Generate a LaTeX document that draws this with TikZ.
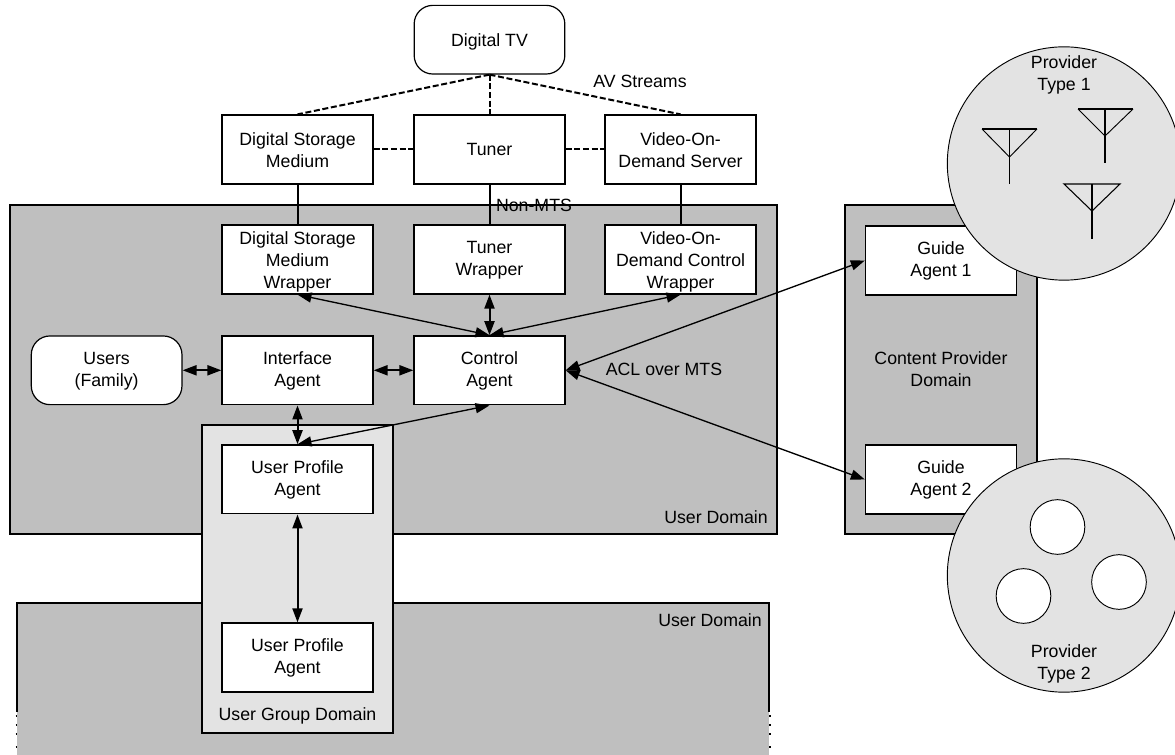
\documentclass[tikz,border=0pt]{standalone}
\usepackage{fontspec}
\setmainfont{Liberation Sans}
\usepackage{tikz}
\usetikzlibrary{arrows.meta,positioning}
\definecolor{domaingray}{gray}{0.75}
\definecolor{groupgray}{gray}{0.89}
\tikzset{
	agent/.style = {draw=black, fill=white, line width=1.2pt, align=center, inner sep=0pt,
		minimum width=113pt, minimum height=51.5pt},
	twoline/.style = {agent, text height=27.5pt},% two lines of text
	tallagent/.style = {agent, text height=47pt},% three lines of text
	endnode/.style = {rounded corners=14pt, line width=0.9pt},
	domainbox/.style = {draw=black, fill=domaingray, line width=0.8pt},
	groupbox/.style = {draw=black, fill=groupgray, line width=1.2pt},
	provider/.style = {circle, draw=black, fill=groupgray, line width=0.7pt, inner sep=0pt, minimum size=175pt},
	hole/.style = {circle, draw=black, fill=white, line width=0.7pt, inner sep=0pt, minimum size=41pt},
	textnode/.style = {align=center, inner sep=0pt},
	link/.style = {<->, line width=1.5pt},
	thinlink/.style = {<->, line width=1pt},
	wire/.style = {line width=1.5pt},
	stream/.style = {wire, dash pattern=on 4.5pt off 2pt}
}
\begin{document}
\begin{tikzpicture}[x=0.75pt,y=-0.75pt,>={Triangle[length=10.5pt,width=7.5pt]},font=\fontsize{13.3}{16.5}\selectfont]
\useasboundingbox (0,0) rectangle (1175,755);
% domains
\draw[domainbox] (10,205) rectangle (777,534);
\fill[domaingray] (17,603) rectangle (769,755);
\draw[line width=1.2pt] (17,712) -- (17,603) -- (769,603) -- (769,712);
\foreach \tick in {716,725,734,747} {
	\draw[line width=0.8pt] (15.5,\tick) -- (17,\tick);
	\draw[line width=0.8pt] (769,\tick) -- (770.5,\tick);
}
\draw[domainbox] (845,205) rectangle (1037,534);
\draw[groupbox] (202,425) rectangle (393,733);
% agents
\node [twoline] (dsm) at (297.5,149.5) {Digital Storage\\Medium};
\node [agent, right = 29.8pt of dsm] (tuner) {Tuner};
\node [twoline, right = 29.1pt of tuner] (vod) {Video-On-\\Demand Server};
\node [agent, endnode, text depth=0pt, above = 29.8pt of tuner] (tv) {Digital TV};
\node [tallagent, below = 29.8pt of dsm] (dsmw) {Digital Storage\\Medium\\Wrapper};
\node [twoline, below = 29.8pt of tuner] (tunerw) {Tuner\\Wrapper};
\node [tallagent, below = 29.8pt of vod] (vodw) {Video-On-\\Demand Control\\Wrapper};
\node [twoline, below = 30.4pt of dsmw] (iface) {Interface\\Agent};
\node [twoline, below = 30.4pt of tunerw] (ctrl) {Control\\Agent};
\node [twoline, endnode, left = 29.1pt of iface] (users) {Users\\(Family)};
\node [twoline, below = 29.1pt of iface] (up1) {User Profile\\Agent};
\node [twoline] (up2) at (297.5,657.5) {User Profile\\Agent};
\node [twoline] (guide1) at (941,260.5) {Guide\\Agent 1};
\node [twoline] (guide2) at (941,479.5) {Guide\\Agent 2};
% connectors
\draw[stream] (tv.south) -- (dsm.north);
\draw[stream] (tv.south) -- (tuner.north);
\draw[stream] (tv.south) -- (vod.north);
\draw[stream] (dsm.east) -- (tuner.west);
\draw[stream] (tuner.east) -- (vod.west);
\draw[wire] (dsm.south) -- (dsmw.north);
\draw[wire] (tuner.south) -- (tunerw.north);
\draw[wire] (vod.south) -- (vodw.north);
\draw[thinlink] (dsmw.south) -- (ctrl.north);
\draw[link] (tunerw.south) -- (ctrl.north);
\draw[thinlink] (vodw.south) -- (ctrl.north);
\draw[link] (users.east) -- (iface.west);
\draw[link] (iface.east) -- (ctrl.west);
\draw[link] (iface.south) -- (up1.north);
\draw[thinlink] (ctrl.south) -- (up1.north);
\draw[thinlink] (ctrl.east) -- (guide1.west);
\draw[thinlink] (ctrl.east) -- (guide2.west);
\draw[link] (up1.south) -- (up2.north);
% providers
\node [provider] (type1) at (1064,163.5) {};
\node [provider] (type2) at (1064,575.5) {};
\node [hole] (hole1) at (1057.5,527) {};
\node [hole] (hole2) at (1023.5,596) {};
\node [hole] (hole3) at (1119,582) {};
\draw[line width=0.7pt] (982,129) -- (1009.5,157) -- (1037,129);
\draw[line width=1.1pt] (982,129) -- (1037,129);
\draw[line width=0.8pt] (1009.5,129) -- (1009.5,184);
\draw[line width=0.7pt] (1078,109) -- (1105,136) -- (1133,109);
\draw[line width=1.5pt] (1078,109) -- (1133,109);
\draw[line width=1.5pt] (1105,109) -- (1105,163);
\draw[line width=0.8pt] (1064,184) -- (1092,211) -- (1120,184) -- cycle;
\draw[line width=1.2pt] (1092,184) -- (1092,239);
% labels
\node [textnode] (avlabel) at (640,81) {AV Streams};
\node [textnode] (nonmts) at (534,205.5) {Non-MTS};
\node [textnode] (acl) at (664,369) {ACL over MTS};
\node [textnode] (cpd) at (941,369) {Content Provider\\Domain};
\node [textnode] (ud1) at (716,517) {User Domain};
\node [textnode] (ud2) at (710,620) {User Domain};
\node [textnode] (ugd) at (297.5,716) {User Group Domain};
\node [textnode] (t1) at (1064,75) {Provider\\Type 1};
\node [textnode] (t2) at (1064,664) {Provider\\Type 2};
\end{tikzpicture}
\end{document}
